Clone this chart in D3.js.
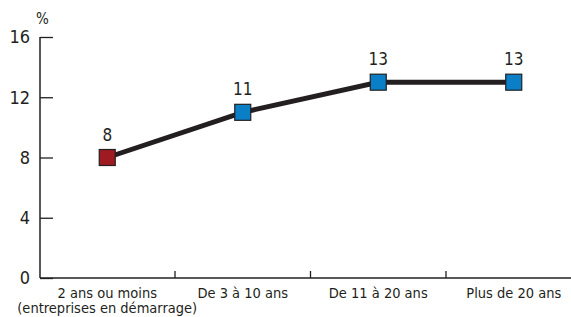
<!DOCTYPE html>
<html>
<head>
<meta charset="utf-8">
<script src="https://cdn.jsdelivr.net/npm/d3@7"></script>
<style>
body { margin: 0; background: #fff; }
text { font-family: "DejaVu Sans Condensed", "DejaVu Sans", sans-serif; fill: #231f20; }
</style>
</head>
<body>
<div id="chart"></div>
<script>
// categories and values
var categories = ["2 ans ou moins", "De 3 à 10 ans", "De 11 à 20 ans", "Plus de 20 ans"];
var subLabels = ["(entreprises en démarrage)", "", "", ""];
var values = [8, 11, 13, 13];
var yTicks = [0, 4, 8, 12, 16];

var width = 571, height = 317;

var svg = d3.select("#chart")
	.append("svg")
	.attr("width", width)
	.attr("height", height);

var x = d3.scaleBand()
	.domain(categories)
	.range([39.5, 581.5]);

var y = d3.scaleLinear()
	.domain([0, 16])
	.range([278, 37]);

// y axis
var yAxis = svg.append("g")
	.attr("transform", "translate(40,0)")
	.call(d3.axisLeft(y).tickValues(yTicks).tickSize(-13).tickPadding(24));
yAxis.select(".domain").attr("stroke", "#231f20").attr("stroke-width", 1.5).attr("d", "M0,37V278");
yAxis.selectAll(".tick line").attr("stroke", "#231f20").attr("stroke-width", 1.3);
yAxis.selectAll(".tick text")
	.attr("font-size", "18px")
	.attr("text-anchor", "end")
	.attr("x", -10);

// x axis
var xAxis = svg.append("g")
	.attr("transform", "translate(0,278)");
xAxis.append("line")
	.attr("x1", 40).attr("x2", width)
	.attr("stroke", "#231f20").attr("stroke-width", 1.5);
xAxis.selectAll(".xt")
	.data(categories.slice(1))
	.enter()
	.append("line")
	.attr("x1", function(d) { return x(d); })
	.attr("x2", function(d) { return x(d); })
	.attr("y1", 0).attr("y2", -7)
	.attr("stroke", "#231f20").attr("stroke-width", 1.3);
// two-line category labels
xAxis.selectAll(".xl")
	.data(categories)
	.enter()
	.append("text")
	.attr("x", function(d) { return x(d) + x.bandwidth() / 2; })
	.attr("y", 20)
	.attr("text-anchor", "middle")
	.attr("font-size", "14.5px")
	.each(function(d, i) {
		var t = d3.select(this);
		t.append("tspan").text(d);
		if (subLabels[i]) {
			t.append("tspan")
				.attr("x", x(d) + x.bandwidth() / 2)
				.attr("dy", 15)
				.text(subLabels[i]);
		}
	});

// unit label
svg.append("text")
	.attr("x", 36).attr("y", 24)
	.attr("font-size", "15px")
	.text("%");

var pts = categories.map(function(c, i) {
	return { cat: c, value: values[i] };
});

// line
var line = d3.line()
	.x(function(d) { return x(d.cat) + x.bandwidth() / 2; })
	.y(function(d) { return y(d.value); });

svg.append("path")
	.datum(pts)
	.attr("d", line)
	.attr("fill", "none")
	.attr("stroke", "#231f20")
	.attr("stroke-width", 5);

// markers
var s = 16;
svg.selectAll("rect.m")
	.data(pts)
	.enter()
	.append("rect")
	.attr("x", function(d) { return x(d.cat) + x.bandwidth() / 2 - s / 2; })
	.attr("y", function(d) { return y(d.value) - s / 2; })
	.attr("width", s)
	.attr("height", s)
	.attr("fill", function(d, i) { return i == 0 ? "#9e1b22" : "#0a7fc7"; })
	.attr("stroke", "#231f20")
	.attr("stroke-width", 1.2);

// value labels
svg.selectAll("text.v")
	.data(pts)
	.enter()
	.append("text")
	.attr("x", function(d) { return x(d.cat) + x.bandwidth() / 2; })
	.attr("y", function(d) { return y(d.value) - 17; })
	.attr("text-anchor", "middle")
	.attr("font-size", "17px")
	.text(function(d) { return d.value; });
</script>
</body>
</html>
